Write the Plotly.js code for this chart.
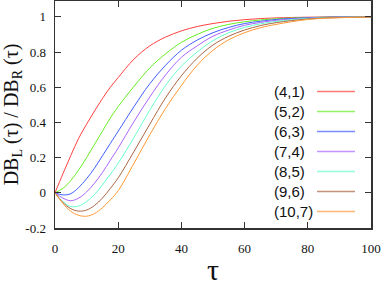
<!DOCTYPE html>
<html>
<head>
<meta charset="utf-8">
<script src="https://cdn.plot.ly/plotly-3.0.1.min.js"></script>
<style>html,body{margin:0;padding:0;background:#fff;}#chart{width:382px;height:289px;}</style>
</head>
<body>
<div id="chart"></div>
<script>
var tau = [0,2.5,5,7.5,10,12.5,15,17.5,20,25,30,35,40,45,50,55,60,65,70,80,90,100];
var s41  = [0,0.108,0.212,0.31,0.39,0.465,0.535,0.6,0.655,0.76,0.835,0.885,0.92,0.945,0.962,0.975,0.984,0.99,0.994,0.998,1.0,1.0];
var s52  = [0,0.025,0.07,0.13,0.2,0.275,0.35,0.425,0.49,0.605,0.71,0.79,0.855,0.9,0.935,0.957,0.972,0.982,0.989,0.996,0.999,1.0];
var s63  = [0,-0.012,-0.005,0.03,0.08,0.14,0.21,0.28,0.35,0.49,0.62,0.725,0.81,0.868,0.91,0.94,0.962,0.975,0.985,0.995,0.999,1.0];
var s74  = [0,-0.03,-0.045,-0.03,0.005,0.055,0.115,0.185,0.255,0.405,0.545,0.67,0.77,0.835,0.89,0.925,0.952,0.968,0.98,0.993,0.998,1.0];
var s85  = [0,-0.05,-0.078,-0.075,-0.05,-0.01,0.045,0.105,0.168,0.315,0.47,0.61,0.72,0.8,0.865,0.91,0.94,0.96,0.974,0.991,0.997,1.0];
var s96  = [0,-0.055,-0.09,-0.104,-0.098,-0.072,-0.03,0.025,0.085,0.235,0.39,0.54,0.665,0.765,0.84,0.89,0.925,0.95,0.967,0.988,0.996,0.999];
var s107 = [0,-0.06,-0.105,-0.128,-0.133,-0.118,-0.085,-0.04,0.012,0.168,0.33,0.48,0.61,0.725,0.81,0.87,0.91,0.938,0.957,0.985,0.995,0.999];
var names = ['(4,1)','(5,2)','(6,3)','(7,4)','(8,5)','(9,6)','(10,7)'];
var series = [s41,s52,s63,s74,s85,s96,s107];
var colors = ['#ff4040','#66ee22','#3f5fff','#aa66ff','#66ffcc','#aa6644','#ff9933'];
var xTicks = [0,20,40,60,80,100];
var yTicks = [-0.2,0,0.2,0.4,0.6,0.8,1];
var yTickText = ['-0.2','0','0.2','0.4','0.6','0.8','1'];

var W = 382, H = 289, L = 55, R = 371, T = 1, B = 228;
function px(x){ return (x - L) / (R - L); }
function py(y){ return (B - y) / (B - T); }

var traces = series.map(function(s, i){
  return {x: tau, y: s, type: 'scatter', mode: 'lines', name: names[i],
          line: {color: colors[i], width: 1, shape: 'spline', smoothing: 1}, showlegend: false};
});

var annotations = [], shapes = [];
names.forEach(function(n, i){
  var yy = 91.5 + 20 * i;
  annotations.push({xref: 'paper', yref: 'paper', x: px(272), y: py(yy), xanchor: 'left', yanchor: 'middle',
    text: n, showarrow: false, font: {family: 'Liberation Sans, Arial, sans-serif', size: 15, color: '#111'}});
  shapes.push({type: 'line', xref: 'paper', yref: 'paper', layer: 'above', opacity: 0.7, x0: px(317), x1: px(355), y0: py(yy), y1: py(yy),
    line: {color: colors[i], width: 1.5}});
});

var axisCommon = {showgrid: false, zeroline: false, showline: true, linecolor: '#333', linewidth: 1.5,
  mirror: 'ticks', ticks: 'inside', ticklen: 6, tickwidth: 1, tickcolor: '#333',
  tickfont: {family: 'Liberation Serif, Times New Roman, serif', size: 13, color: '#111'}};

var layout = {
  width: W, height: H, margin: {l: L, r: W - R, t: T, b: H - B},
  paper_bgcolor: '#fff', plot_bgcolor: '#fff',
  xaxis: Object.assign({}, axisCommon, {range: [0, 100], tickvals: xTicks, ticklabelstandoff: 8,
    title: {text: 'τ', font: {family: 'Liberation Serif, Times New Roman, serif', size: 30, color: '#111'}, standoff: 4}}),
  yaxis: Object.assign({}, axisCommon, {range: [-0.2, 1.09], tickvals: yTicks, ticktext: yTickText, ticklabelstandoff: 5,
    title: {text: 'DB<sub>L</sub> (τ) / DB<sub>R</sub> (τ)', font: {family: 'Liberation Serif, Times New Roman, serif', size: 20, color: '#111'}, standoff: 9}}),
  annotations: annotations, shapes: shapes
};
Plotly.newPlot('chart', traces, layout, {staticPlot: true, displayModeBar: false});
</script>
</body>
</html>
